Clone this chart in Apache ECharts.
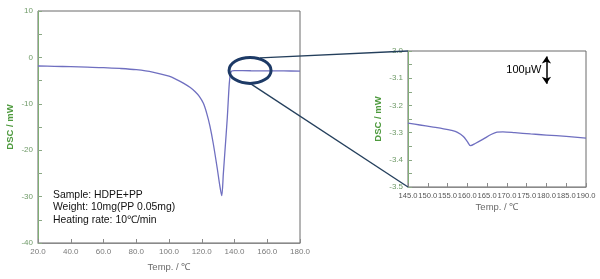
<!DOCTYPE html>
<html>
<head>
<meta charset="utf-8">
<script src="https://cdn.jsdelivr.net/npm/echarts@6/dist/echarts.min.js"></script>
<style>
html,body{margin:0;padding:0;background:#fff;}
#c{width:600px;height:279px;}
</style>
</head>
<body>
<div id="c"></div>
<script>
// Main DSC curve
var mainTemp = [20, 30, 40, 50, 60, 70, 80, 90, 100, 105, 109, 113, 116, 118.5, 121, 123, 125, 127, 129.5, 131, 132.2, 133.2, 134.2, 135.6, 136.8, 137.5, 138.3, 140, 150, 160, 170, 180];
var mainDSC  = [-1.85, -1.92, -2.0, -2.1, -2.2, -2.38, -2.65, -3.15, -4.05, -4.85, -5.6, -6.5, -7.4, -8.4, -9.9, -12, -14.8, -18.5, -24, -27.6, -29.8, -25, -20, -13, -5.7, -3.6, -2.95, -2.85, -2.88, -2.9, -2.92, -2.95];
// Zoomed region
var zoomTemp = [145, 148, 151, 154, 156, 157.5, 159, 160, 160.8, 162, 164, 166, 167.5, 169, 172, 176, 180, 185, 190];
var zoomDSC  = [-3.265, -3.272, -3.279, -3.286, -3.292, -3.299, -3.314, -3.333, -3.348, -3.34, -3.324, -3.307, -3.298, -3.297, -3.300, -3.305, -3.309, -3.314, -3.32];
// Axis ranges / ticks
var mainX = {min: 20, max: 180, interval: 20};
var mainY = {min: -40, max: 10, interval: 10};
var zoomX = {min: 145, max: 190, interval: 5};
var zoomY = {min: -3.5, max: -3.0, interval: 0.1};
var scaleBar = {x: 180, from: -3.02, to: -3.12, label: '100μW'};
var ellipseCenter = [149.5, -2.8];
var notes = ['Sample: HDPE+PP', 'Weight: 10mg(PP 0.05mg)', 'Heating rate: 10℃/min'];

function pairs(a, b) { return a.map(function (v, i) { return [v, b[i]]; }); }

var FONT = '"Liberation Sans", Arial, sans-serif';
var green = '#4e9a3e';
var lineColor = '#6f6fc0';

var chart = echarts.init(document.getElementById('c'), null, {renderer: 'canvas'});

function xAxisCfg(gi, r, fmtDigits, fontSize, nameGap, labelColor) {
  return {
    gridIndex: gi, type: 'value', min: r.min, max: r.max, interval: r.interval,
    name: 'Temp. / ℃', nameLocation: 'middle', nameGap: nameGap,
    nameTextStyle: {color: '#6a6a6a', fontSize: 9.5, fontFamily: FONT},
    axisLine: {show: true, onZero: false, lineStyle: {color: '#8a8a8a', width: 1}},
    axisTick: {show: true, inside: true, length: 4, lineStyle: {color: '#8a8a8a'}},
    axisLabel: {color: labelColor, fontSize: fontSize, fontFamily: FONT, margin: 5, interval: 0, hideOverlap: false,
      showMinLabel: true, showMaxLabel: true,
      formatter: function (v) { return v.toFixed(fmtDigits); }},
    splitLine: {show: false}
  };
}
function yAxisCfg(gi, r, fmtDigits, nameGap) {
  return {
    gridIndex: gi, type: 'value', min: r.min, max: r.max, interval: r.interval,
    name: 'DSC / mW', nameLocation: 'middle', nameGap: nameGap,
    nameTextStyle: {color: green, fontSize: 9.5, fontWeight: 'bold', fontFamily: FONT},
    axisLine: {show: true, onZero: false, lineStyle: {color: '#7fae74', width: 1}},
    axisTick: {show: true, inside: true, length: 4, lineStyle: {color: '#8aa884'}},
    minorTick: {show: true, splitNumber: 2, length: 4, lineStyle: {color: '#8aa884'}},
    axisLabel: {color: '#6f9a68', fontSize: 8, fontFamily: FONT, margin: 5,
      showMinLabel: true, showMaxLabel: true,
      formatter: function (v) { return fmtDigits ? v.toFixed(fmtDigits) : String(Math.round(v)); }},
    splitLine: {show: false}
  };
}

var option = {
  animation: false,
  backgroundColor: '#ffffff',
  grid: [
    {left: 38, top: 11, width: 262, height: 232, show: true, borderColor: '#6a6a6a', borderWidth: 1, backgroundColor: 'transparent'},
    {left: 408, top: 51, width: 178, height: 136, show: true, borderColor: '#6a6a6a', borderWidth: 1, backgroundColor: 'transparent'}
  ],
  xAxis: [xAxisCfg(0, mainX, 1, 8, 19, '#7a7a7a'), xAxisCfg(1, zoomX, 1, 7.6, 15, '#555555')],
  yAxis: [yAxisCfg(0, mainY, 0, 23), yAxisCfg(1, zoomY, 1, 25)],
  series: [
    {type: 'line', xAxisIndex: 0, yAxisIndex: 0, data: pairs(mainTemp, mainDSC), showSymbol: false, smooth: 0.3,
      lineStyle: {color: lineColor, width: 1.3}},
    {type: 'line', xAxisIndex: 1, yAxisIndex: 1, data: pairs(zoomTemp, zoomDSC), showSymbol: false, smooth: 0.3,
      lineStyle: {color: lineColor, width: 1.3},
      markLine: {silent: true, symbol: ['arrow', 'arrow'], symbolSize: [7, 7], label: {show: false},
        lineStyle: {color: '#000', width: 1.5, type: 'solid'},
        data: [[{coord: [scaleBar.x, scaleBar.from]}, {coord: [scaleBar.x, scaleBar.to]}]]}}
  ]
};
chart.setOption(option);

var ec = chart.convertToPixel({gridIndex: 0}, ellipseCenter);
var zTL = chart.convertToPixel({gridIndex: 1}, [zoomX.min, zoomY.max]);
var zBL = chart.convertToPixel({gridIndex: 1}, [zoomX.min, zoomY.min]);
var sb = chart.convertToPixel({gridIndex: 1}, [scaleBar.x, (scaleBar.from + scaleBar.to) / 2]);
var navy = '#1d3a66';
var rx = 21, ry = 13;

var graphics = [
  {type: 'line', z: 100, shape: {x1: ec[0] + 10, y1: ec[1] - ry + 0.5, x2: zTL[0], y2: zTL[1]}, style: {stroke: '#243f5c', lineWidth: 1.3}},
  {type: 'line', z: 100, shape: {x1: ec[0], y1: ec[1] + ry, x2: zBL[0], y2: zBL[1]}, style: {stroke: '#243f5c', lineWidth: 1.3}},
  {type: 'ellipse', z: 101, shape: {cx: ec[0], cy: ec[1], rx: rx, ry: ry}, style: {fill: 'none', stroke: navy, lineWidth: 3}},
  {type: 'text', z: 102, x: sb[0] - 5, y: sb[1], style: {text: scaleBar.label, fill: '#000', font: '11px ' + FONT, textAlign: 'right', textVerticalAlign: 'middle', verticalAlign: 'middle'}}
];
notes.forEach(function (t, i) {
  graphics.push({type: 'text', z: 102, x: 53, y: 195 + i * 12.6, style: {text: t, fill: '#111', font: '10.4px ' + FONT, textAlign: 'left', textVerticalAlign: 'middle', verticalAlign: 'middle'}});
});
chart.setOption({graphic: graphics});
</script>
</body>
</html>
